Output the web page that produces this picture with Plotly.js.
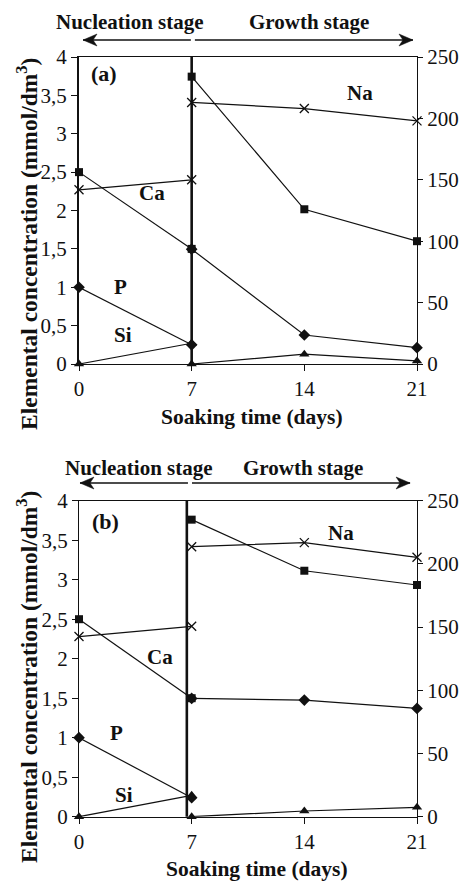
<!DOCTYPE html>
<html>
<head>
<meta charset="utf-8">
<script src="https://cdn.plot.ly/plotly-3.0.1.min.js"></script>
<style>html,body{margin:0;padding:0;background:#fff;}#chart{width:465px;height:882px;}</style>
</head>
<body>
<div id="chart"></div>
<script>
// ---- data ----
const daysNucleation = [0, 7];
const daysGrowth = [7, 14, 21];
const dayTicks = [0, 7, 14, 21];
const leftTickVals = [0, 0.5, 1, 1.5, 2, 2.5, 3, 3.5, 4];
const leftTickText = ["0", "0,5", "1", "1,5", "2", "2,5", "3", "3,5", "4"];
const rightTickVals = [0, 50, 100, 150, 200, 250];

// panel (a) – nucleation stage (left axis, mmol/dm3)
const caNucA = [2.5, 1.5];
const naNucA = [2.27, 2.40];
const pNucA = [1.0, 0.25];
const siNucA = [0, 0.27];
// panel (a) – growth stage (right axis)
const squareGrowA = [234, 126, 100];
const crossGrowA = [213, 208, 198];
const diamondGrowA = [93.5, 23.6, 13.3];
const triangleGrowA = [0, 8, 2.5];

// panel (b) – nucleation stage (left axis)
const caNucB = [2.5, 1.5];
const naNucB = [2.28, 2.41];
const pNucB = [1.0, 0.24];
const siNucB = [0, 0.27];
// panel (b) – growth stage (right axis)
const squareGrowB = [235, 194.6, 183.3];
const crossGrowB = [213.6, 216.8, 205.2];
const diamondGrowB = [93.6, 92.3, 85.7];
const triangleGrowB = [0, 4.5, 7.4];

const INK = '#111';
const FONT = 'Liberation Serif, Times New Roman, serif';

function tr(x, y, sym, xa, ya, msize) {
  return {
    x: x, y: y, xaxis: xa, yaxis: ya, type: 'scatter', mode: 'lines+markers',
    cliponaxis: false, showlegend: false, hoverinfo: 'skip',
    line: {color: INK, width: 1.2},
    marker: {symbol: sym, size: msize || 8, color: INK, line: {color: INK, width: sym === 'x-thin' ? 1.3 : 0}}
  };
}

const traces = [
  tr(daysGrowth, diamondGrowA, 'diamond', 'x', 'y2', 9),
  tr(daysGrowth, triangleGrowA, 'triangle-up', 'x', 'y2', 9),
  tr(daysGrowth, crossGrowA, 'x-thin', 'x', 'y2', 9),
  tr(daysGrowth, squareGrowA, 'square', 'x', 'y2', 8),
  tr(daysNucleation, naNucA, 'x-thin', 'x', 'y', 9),
  tr(daysNucleation, siNucA, 'triangle-up', 'x', 'y', 9),
  tr(daysNucleation, pNucA, 'diamond', 'x', 'y', 9),
  tr(daysNucleation, caNucA, 'square', 'x', 'y', 8),
  tr(daysGrowth, diamondGrowB, 'diamond', 'x2', 'y4', 9),
  tr(daysGrowth, triangleGrowB, 'triangle-up', 'x2', 'y4', 9),
  tr(daysGrowth, crossGrowB, 'x-thin', 'x2', 'y4', 9),
  tr(daysGrowth, squareGrowB, 'square', 'x2', 'y4', 8),
  tr(daysNucleation, naNucB, 'x-thin', 'x2', 'y3', 9),
  tr(daysNucleation, siNucB, 'triangle-up', 'x2', 'y3', 9),
  tr(daysNucleation, pNucB, 'diamond', 'x2', 'y3', 9),
  tr(daysNucleation, caNucB, 'square', 'x2', 'y3', 8)
];

const tickFont = {family: FONT, size: 21, color: INK};
const xDom = [79 / 465, 417 / 465];
const domA = [(882 - 364) / 882, (882 - 57) / 882];
const domB = [(882 - 816.7) / 882, (882 - 500.7) / 882];

function xax(anchor) {
  return {domain: xDom, anchor: anchor, range: [0, 21], tickvals: dayTicks,
    ticks: 'outside', ticklen: 6, tickcolor: INK, showline: true, linecolor: INK, linewidth: 1,
    mirror: true, showgrid: false, zeroline: false, tickfont: tickFont, fixedrange: true};
}
function yleft(dom, anchor, lw) {
  return {domain: dom, anchor: anchor, range: [0, 4], tickvals: leftTickVals, ticktext: leftTickText,
    ticks: 'outside', ticklen: 6, tickcolor: INK, showline: true, linecolor: INK, linewidth: lw,
    showgrid: false, zeroline: false, tickfont: tickFont, fixedrange: true};
}
function yright(over, anchor) {
  return {overlaying: over, anchor: anchor, side: 'right', range: [0, 250], tickvals: rightTickVals,
    ticks: 'outside', ticklen: 5, tickcolor: INK, showline: true, linecolor: INK, linewidth: 1,
    showgrid: false, zeroline: false, tickfont: tickFont, fixedrange: true};
}
function yrightInside(over, anchor) {
  return {overlaying: over, anchor: anchor, side: 'right', range: [0, 250], tickvals: rightTickVals,
    ticks: 'inside', ticklen: 5, tickcolor: INK, showline: false, showticklabels: false,
    showgrid: false, zeroline: false, fixedrange: true};
}

const bold = (t) => '<b>' + t + '</b>';

function txt(text, x, y, xref, yref, size) {
  return {text: bold(text), x: x, y: y, xref: xref, yref: yref, showarrow: false,
    font: {family: FONT, size: size || 20, color: INK}, xanchor: 'center', yanchor: 'middle'};
}

const annotations = [
  txt('Nucleation stage', 129.5 / 465, (882 - 22) / 882, 'paper', 'paper', 21),
  txt('Growth stage', 309 / 465, (882 - 22) / 882, 'paper', 'paper', 21),
  txt('(a)', 1.55, 3.79, 'x', 'y', 22),
  txt('Ca', 4.54, 2.23, 'x', 'y', 21),
  txt('P', 2.55, 1.0, 'x', 'y', 21),
  txt('Si', 2.73, 0.38, 'x', 'y', 21),
  txt('Na', 17.46, 3.53, 'x', 'y', 21),
  txt('Soaking time (days)', 252.5 / 465, (882 - 417) / 882, 'paper', 'paper', 21.5),
  Object.assign(txt('Elemental concentration (mmol/dm<sup>3</sup>)', 27 / 465, (882 - 244) / 882, 'paper', 'paper', 23.5), {textangle: -90}),
  txt('Nucleation stage', 139 / 465, (882 - 468) / 882, 'paper', 'paper', 21),
  txt('Growth stage', 302.5 / 465, (882 - 468) / 882, 'paper', 'paper', 21),
  txt('(b)', 1.62, 3.74, 'x2', 'y3', 22),
  txt('Ca', 5.06, 2.02, 'x2', 'y3', 21),
  txt('P', 2.33, 1.06, 'x2', 'y3', 21),
  txt('Si', 2.80, 0.28, 'x2', 'y3', 21),
  txt('Na', 16.25, 3.59, 'x2', 'y3', 21),
  txt('Soaking time (days)', 257 / 465, (882 - 869) / 882, 'paper', 'paper', 21.5),
  Object.assign(txt('Elemental concentration (mmol/dm<sup>3</sup>)', 27 / 465, (882 - 677) / 882, 'paper', 'paper', 23.5), {textangle: -90})
];

// stage arrows: line + stealth head (head drawn in pixel units at its tip)
function arrowShapes(xTip, xTail, y, xref, dir) {
  const s = dir; // -1 points left, +1 points right
  const head = 'M0,0 L' + (-s * 14) + ',6 L' + (-s * 10) + ',0 L' + (-s * 14) + ',-6 Z';
  return [
    {type: 'line', xref: xref, yref: 'paper', x0: xTail, x1: xTip, y0: y, y1: y, line: {color: INK, width: 1.6}},
    {type: 'path', xref: xref, yref: 'paper', xsizemode: 'pixel', ysizemode: 'pixel', xanchor: xTip, yanchor: y,
      path: head, fillcolor: INK, line: {color: INK, width: 0.5}}
  ];
}

const shapes = [
  {type: 'line', xref: 'x', yref: 'y domain', x0: 7, x1: 7, y0: 0, y1: 1, line: {color: INK, width: 2.6}, layer: 'below'},
  {type: 'line', xref: 'x2', yref: 'y3 domain', x0: 6.7, x1: 6.7, y0: 0, y1: 1, line: {color: INK, width: 2.6}, layer: 'below'}
].concat(
  arrowShapes(0.25, 6.95, (882 - 40) / 882, 'x', -1),
  arrowShapes(20.75, 7.2, (882 - 40) / 882, 'x', 1),
  arrowShapes(0.06, 6.77, (882 - 483) / 882, 'x2', -1),
  arrowShapes(20.57, 7.02, (882 - 483) / 882, 'x2', 1)
);

const layout = {
  width: 465, height: 882,
  margin: {l: 0, r: 0, t: 0, b: 0},
  paper_bgcolor: '#fff', plot_bgcolor: '#fff',
  font: {family: FONT, color: INK},
  showlegend: false,
  xaxis: xax('y'),
  yaxis: yleft(domA, 'x', 2),
  yaxis2: yright('y', 'x'),
  yaxis5: yrightInside('y', 'x'),
  xaxis2: xax('y3'),
  yaxis3: yleft(domB, 'x2', 1),
  yaxis4: yright('y3', 'x2'),
  yaxis6: yrightInside('y3', 'x2'),
  annotations: annotations,
  shapes: shapes
};

Plotly.newPlot('chart', traces, layout, {displayModeBar: false, staticPlot: true});
</script>
</body>
</html>
